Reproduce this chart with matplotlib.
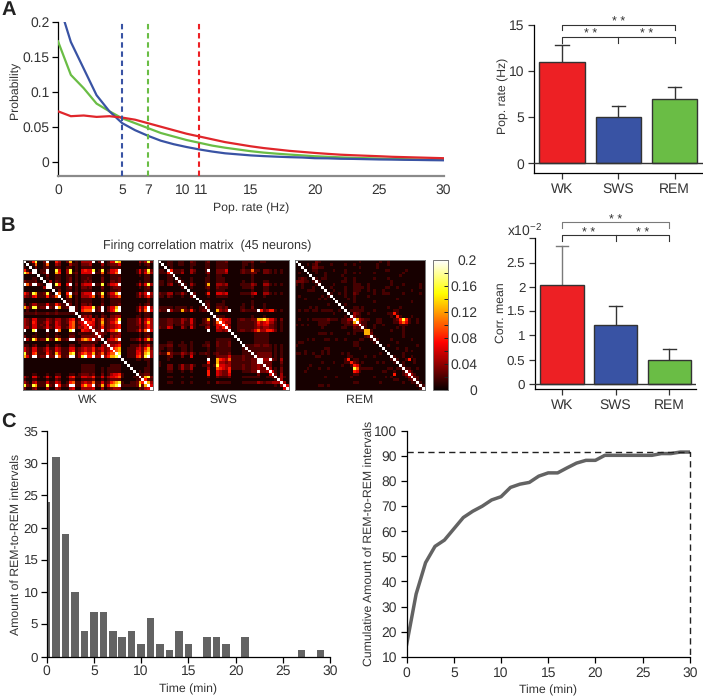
import numpy as np
import matplotlib
matplotlib.use("Agg")
import matplotlib.pyplot as plt
from matplotlib.ticker import MultipleLocator
from matplotlib.transforms import ScaledTranslation

plt.rcParams['font.family'] = ['Liberation Sans', 'DejaVu Sans']
plt.rcParams['font.size'] = 8.8
plt.rcParams['xtick.labelsize'] = 10
plt.rcParams['ytick.labelsize'] = 10
plt.rcParams['text.color'] = '#333333'
plt.rcParams['axes.labelcolor'] = '#333333'
plt.rcParams['xtick.labelcolor'] = '#333333'
plt.rcParams['ytick.labelcolor'] = '#333333'
plt.rcParams['axes.linewidth'] = 0.9
plt.rcParams['text.hinting'] = 'none'

W, H = 703, 697
RED, BLUE, GREEN = '#ED2024', '#3953A4', '#6ABD45'
GREY = '#636363'

# panel A, distributions
rate_hz = list(range(31))
prob_wk = [.072, .065, .066, .064, .065, .063, .060, .055, .050, .045, .040, .036, .032, .028, .025, .022,
           .0195, .0175, .0155, .014, .0125, .0112, .010, .0092, .0085, .0078, .007, .0065, .006, .0055, .005]
prob_sws = [.23, .171, .133, .095, .072, .055, .045, .037, .030, .025, .021, .0175, .0145, .012, .0105, .009,
            .008, .0072, .0065, .006, .005, .0048, .0042, .004, .0036, .0032, .003, .0027, .0025, .0022, .002]
prob_rem = [.172, .124, .105, .083, .072, .062, .055, .048, .041, .036, .031, .027, .023, .020, .0175, .015,
            .013, .0115, .0102, .009, .0078, .007, .0062, .0055, .005, .0045, .004, .0036, .0032, .003, .0028]
rate_means = [5, 7, 11]
rate_ticks = [0, 5, 7, 10, 11, 15, 20, 25, 30]

# bars
states = ['WK', 'SWS', 'REM']
pop_rate = [11, 5, 7]
pop_rate_top = [12.8, 6.2, 8.3]
corr_mean = [2.03, 1.22, 0.5]
corr_mean_top = [2.85, 1.6, 0.72]

# firing correlation matrices, upper triangle, one digit per cell
level_values = [.004, .018, .03, .045, .062, .08, .1, .125, .16, .2]
wk_rows = [
    "90158 00290 05300 27010 33339 02901 44870 00000 31382",
    ".9016 00160 03200 03110 22230 00301 22240 00000 10120",
    "..902 00120 01100 11010 11110 00100 11110 00000 00010",
    "...99 01190 08400 38010 45448 01801 44590 00001 41382",
    "....9 01290 07500 38120 44449 11602 44690 00001 41473",
    "..... 90020 01100 11010 11110 00100 11110 00000 10110",
    "..... .9010 01100 12010 11210 00200 11120 00000 00110",
    "..... ..903 02100 12010 12120 00200 22120 00000 10110",
    "..... ...99 08500 49020 34449 11802 44590 00001 41483",
    "..... ....9 01100 12010 22120 00200 12220 00000 10120",
    "..... ..... 90200 11010 11110 00100 11120 00000 00110",
    "..... ..... .9600 59120 34449 12802 44790 00001 42493",
    "..... ..... ..900 37010 33346 01601 33460 00001 31352",
    "..... ..... ...90 11010 11110 00100 11110 00000 00010",
    "..... ..... ....9 11010 11110 00100 11110 00000 00010",
    "..... ..... ..... 92010 22120 00200 11120 00000 10120",
    "..... ..... ..... .9910 45558 12902 44790 00001 42593",
    "..... ..... ..... ..910 56669 12902 45890 00001 52694",
    "..... ..... ..... ...90 11110 00100 11110 00000 10110",
    "..... ..... ..... ....9 23230 10210 22330 00001 10110",
    "..... ..... ..... ..... 94435 12612 33580 01112 41353",
    "..... ..... ..... ..... .9554 12712 44690 01112 41473",
    "..... ..... ..... ..... ..944 12612 33450 01112 31353",
    "..... ..... ..... ..... ...93 12512 33450 01111 31353",
    "..... ..... ..... ..... ....9 22913 55790 01112 52694",
    "..... ..... ..... ..... ..... 93210 22230 00000 10110",
    "..... ..... ..... ..... ..... .9200 32330 00000 10120",
    "..... ..... ..... ..... ..... ..903 44690 00112 41473",
    "..... ..... ..... ..... ..... ...92 22230 00000 10110",
    "..... ..... ..... ..... ..... ....9 33450 00111 31241",
    "..... ..... ..... ..... ..... ..... 95670 01113 42572",
    "..... ..... ..... ..... ..... ..... .9670 01114 42673",
    "..... ..... ..... ..... ..... ..... ..980 01114 52783",
    "..... ..... ..... ..... ..... ..... ...90 01115 62893",
    "..... ..... ..... ..... ..... ..... ....9 00001 10110",
    "..... ..... ..... ..... ..... ..... ..... 90000 00010",
    "..... ..... ..... ..... ..... ..... ..... .9000 00010",
    "..... ..... ..... ..... ..... ..... ..... ..900 00110",
    "..... ..... ..... ..... ..... ..... ..... ...90 10110",
    "..... ..... ..... ..... ..... ..... ..... ....9 11220",
    "..... ..... ..... ..... ..... ..... ..... ..... 92782",
    "..... ..... ..... ..... ..... ..... ..... ..... .9521",
    "..... ..... ..... ..... ..... ..... ..... ..... ..973",
    "..... ..... ..... ..... ..... ..... ..... ..... ...94",
    "..... ..... ..... ..... ..... ..... ..... ..... ....9",
]
sws_rows = [
    "90011 00110 02100 01200 11120 00001 11200 11000 00000",
    ".9011 00110 01100 01100 11110 00001 10100 00000 00000",
    "..901 00000 01000 01100 11110 00001 00100 00000 00000",
    "...95 11120 03200 01900 22240 00012 11611 02210 10100",
    "....9 11130 03100 01300 22230 00012 11220 02210 10100",
    "..... 90000 00000 00100 11000 00000 00100 00000 00000",
    "..... .9100 01000 01100 11100 00000 00100 00000 00000",
    "..... ..910 01000 01100 11100 00001 00100 01100 00000",
    "..... ...91 03100 01700 33230 00011 11320 03310 10100",
    "..... ....9 01000 01200 21110 00001 11200 01100 00000",
    "..... ..... 90000 00100 11100 00000 00100 01100 00000",
    "..... ..... .9200 01500 44340 00011 11340 03310 10100",
    "..... ..... ..900 00100 11110 00000 00100 01000 00000",
    "..... ..... ...90 00000 00000 00000 00000 00000 00000",
    "..... ..... ....9 01100 00100 00000 00100 00000 00000",
    "..... ..... ..... 91200 11100 00001 00100 01000 00000",
    "..... ..... ..... .9200 22120 00011 00200 01000 00000",
    "..... ..... ..... ..900 73239 00012 11119 52355 10100",
    "..... ..... ..... ...90 00000 00000 00000 00000 00000",
    "..... ..... ..... ....9 11100 00000 00100 01000 00000",
    "..... ..... ..... ..... 96443 00122 11227 78644 20200",
    "..... ..... ..... ..... .9533 00111 11125 34533 10100",
    "..... ..... ..... ..... ..952 00111 11124 34422 10100",
    "..... ..... ..... ..... ...93 00111 11123 23322 10100",
    "..... ..... ..... ..... ....9 00122 11246 33554 20100",
    "..... ..... ..... ..... ..... 90000 00011 11100 00000",
    "..... ..... ..... ..... ..... .9000 00011 11100 00000",
    "..... ..... ..... ..... ..... ..900 00011 11100 00000",
    "..... ..... ..... ..... ..... ...90 00011 11100 00000",
    "..... ..... ..... ..... ..... ....9 11122 12210 10100",
    "..... ..... ..... ..... ..... ..... 91111 11110 10100",
    "..... ..... ..... ..... ..... ..... .9111 11110 10100",
    "..... ..... ..... ..... ..... ..... ..912 22220 10100",
    "..... ..... ..... ..... ..... ..... ...92 22220 10100",
    "..... ..... ..... ..... ..... ..... ....9 93392 10300",
    "..... ..... ..... ..... ..... ..... ..... 92220 00200",
    "..... ..... ..... ..... ..... ..... ..... .9220 00100",
    "..... ..... ..... ..... ..... ..... ..... ..930 10200",
    "..... ..... ..... ..... ..... ..... ..... ...94 10200",
    "..... ..... ..... ..... ..... ..... ..... ....9 20300",
    "..... ..... ..... ..... ..... ..... ..... ..... 91310",
    "..... ..... ..... ..... ..... ..... ..... ..... .9300",
    "..... ..... ..... ..... ..... ..... ..... ..... ..930",
    "..... ..... ..... ..... ..... ..... ..... ..... ...94",
    "..... ..... ..... ..... ..... ..... ..... ..... ....9",
]
rem_rows = [
    "90000 00210 00000 00000 00100 00001 00100 00000 00000",
    ".9001 01200 00100 00100 10000 00010 00100 00000 00000",
    "..900 02211 00000 00000 00100 00010 00000 00000 00000",
    "...90 01100 00010 00100 00000 00000 01100 00010 00000",
    "....9 00100 10000 00100 10100 00100 00000 00100 00000",
    "..... 90000 10000 01000 00000 00000 00000 01000 00000",
    "..... .9101 10000 00100 10000 00100 00100 00000 00000",
    "..... ..910 00000 01100 10000 00000 00010 00000 00000",
    "..... ...90 00010 00000 11100 10000 00010 00100 00010",
    "..... ....9 00100 00100 11110 10000 01100 10000 00010",
    "..... ..... 90010 00100 11100 10100 10000 00000 10000",
    "..... ..... .9100 10100 21000 00100 11100 00100 00010",
    "..... ..... ..900 00100 10000 10000 00000 00000 00000",
    "..... ..... ...90 00010 10000 00000 00000 10000 00000",
    "..... ..... ....9 00000 10000 00100 00000 00000 10000",
    "..... ..... ..... 90100 00000 00000 00000 00000 00000",
    "..... ..... ..... .9000 11010 00000 00100 01000 00000",
    "..... ..... ..... ..901 11110 00100 00001 10000 00000",
    "..... ..... ..... ...90 32100 10000 00115 10000 00000",
    "..... ..... ..... ....9 31100 00000 00010 51000 10000",
    "..... ..... ..... ..... 97321 10011 00001 25851 00100",
    "..... ..... ..... ..... .9311 00011 00001 14641 00100",
    "..... ..... ..... ..... ..921 00100 10000 01110 00000",
    "..... ..... ..... ..... ...91 00100 00000 10100 00000",
    "..... ..... ..... ..... ....7 71000 00010 00100 00000",
    "..... ..... ..... ..... ..... 72000 00000 00100 00000",
    "..... ..... ..... ..... ..... .9100 00000 00100 00000",
    "..... ..... ..... ..... ..... ..910 00010 00000 10000",
    "..... ..... ..... ..... ..... ...90 00000 10000 00000",
    "..... ..... ..... ..... ..... ....9 00100 00000 00100",
    "..... ..... ..... ..... ..... ..... 90000 10010 00000",
    "..... ..... ..... ..... ..... ..... .9000 00010 10000",
    "..... ..... ..... ..... ..... ..... ..900 00100 00000",
    "..... ..... ..... ..... ..... ..... ...91 00100 10000",
    "..... ..... ..... ..... ..... ..... ....9 10015 01000",
    "..... ..... ..... ..... ..... ..... ..... 90100 01000",
    "..... ..... ..... ..... ..... ..... ..... .9100 00000",
    "..... ..... ..... ..... ..... ..... ..... ..911 00100",
    "..... ..... ..... ..... ..... ..... ..... ...93 10000",
    "..... ..... ..... ..... ..... ..... ..... ....9 31000",
    "..... ..... ..... ..... ..... ..... ..... ..... 92100",
    "..... ..... ..... ..... ..... ..... ..... ..... .9100",
    "..... ..... ..... ..... ..... ..... ..... ..... ..910",
    "..... ..... ..... ..... ..... ..... ..... ..... ...91",
    "..... ..... ..... ..... ..... ..... ..... ..... ....9",
]

# panel C
minutes = list(range(30))
rem_intervals = [24, 31, 19, 10, 4, 7, 7, 4, 3, 4, 2, 6, 2, 1, 4, 2, 0, 3, 3, 2, 0, 3, 0, 0, 0, 0, 0, 1, 0, 1]
minutes_cum = list(range(31))
rem_cumulative = [15, 35, 47.5, 54, 56.5, 61, 65.5, 68, 70, 72.5, 73.8, 77.5, 78.8, 79.5, 82, 83.3, 83.3, 85.3,
                  87.2, 88.3, 88.3, 90.3, 90.3, 90.3, 90.3, 90.3, 90.3, 91, 91, 91.6, 91.6]
rem_final = 91.6


def axes_px(x0, y0, x1, y1):
    return fig.add_axes([x0 / W, 1 - y1 / H, (x1 - x0) / W, (y1 - y0) / H])


def ylabel_px(ax, text, px, py):
    # label centre given in figure pixels
    fig.text(px / W, 1 - py / H, text, rotation=90, ha='center', va='center', color='#333333')


def to_matrix(rows):
    m = np.zeros((45, 45), dtype=int)
    for i, r in enumerate(rows):
        r = r.replace(' ', '').replace('.', '0')
        assert len(r) == 45, (i, len(r))
        m[i] = [int(c) for c in r]
    m = np.triu(m) + np.triu(m, 1).T
    return np.array(level_values)[m]


def bar_panel(ax, values, tops, brackets, err_colors, top_color):
    ax.bar([1, 2, 3], values, width=0.81, color=[RED, BLUE, GREEN], edgecolor='#333333', linewidth=1.0, zorder=3)
    for x, v, t, c in zip([1, 2, 3], values, tops, err_colors):
        ax.plot([x, x], [v, t], color=c, lw=1.0, zorder=2)
        ax.plot([x - 0.12, x + 0.12], [t, t], color=c, lw=1.0, zorder=2)
    ax.axhline(0, color='#333333', lw=1.0, zorder=4)
    ax.set_xticks([1, 2, 3])
    ax.set_xticklabels(states)
    ax.spines[['top', 'right']].set_visible(False)
    ax.tick_params(length=4, width=0.9, color='#333333', pad=3)
    y1, d1, y2, d2, star = brackets
    ax.plot([1, 1, 3, 3], [y1 - d1, y1, y1, y1 - d1], color=top_color, lw=0.8, clip_on=False)
    ax.plot([1, 1, 3, 3], [y2 - d2, y2, y2, y2 - d2], color='#333333', lw=0.8, clip_on=False)
    ax.plot([2, 2], [y2, y2 - d2], color='#333333', lw=0.8, clip_on=False)
    kw = dict(ha='center', va='center', fontsize=9, clip_on=False)
    ax.text(2, y1 + star, '* *', **kw)
    ax.text(1.5, y2 + star, '* *', **kw)
    ax.text(2.5, y2 + star, '* *', **kw)


fig = plt.figure(figsize=(W / 100, H / 100), dpi=100)

# A left
ax = axes_px(58, 21.7, 443.5, 175.7)
ax.plot(rate_hz, prob_wk, color='#E0262B', lw=1.6, zorder=4)
ax.plot(rate_hz, prob_rem, color=GREEN, lw=1.6, zorder=3)
ax.plot(rate_hz, prob_sws, color=BLUE, lw=1.6, zorder=3)
for m, c in zip(rate_means, [BLUE, GREEN, RED]):
    ax.plot([m, m], [-0.02, 0.2], color=c, lw=1.5, ls=(0, (2.6, 1.8)), zorder=5)
ax.set_xlim(0, 30)
ax.set_ylim(-0.02, 0.2)
ax.set_xticks(rate_ticks)
ax.set_yticks([0, .05, .1, .15, .2])
ax.set_yticklabels(['0', '0.05', '0.1', '0.15', '0.2'])
ax.spines[['top', 'right']].set_visible(False)
ax.spines['bottom'].set_color('#8a8a8a')
ax.spines['bottom'].set_linewidth(1.6)
ax.tick_params(axis='x', length=0, pad=6)
ax.tick_params(axis='y', length=4, width=0.9, pad=2)
ax.set_xlabel('Pop. rate (Hz)', labelpad=4)
ylabel_px(ax, 'Probability', 15, 90)
for t, v in zip(ax.get_xticklabels(), rate_ticks):
    if v == 10:
        t.set_transform(t.get_transform() + ScaledTranslation(-4 / 100, 0, fig.dpi_scale_trans))
    if v == 11:
        t.set_transform(t.get_transform() + ScaledTranslation(2 / 100, 0, fig.dpi_scale_trans))

# A right
ax = axes_px(534.3, 25, 702.7, 173)
bar_panel(ax, pop_rate, pop_rate_top, (15.05, 0.6, 13.75, 0.7, 0.35), ['#333333'] * 3, '#333333')
ax.set_xlim(0.507, 3.5)
ax.set_ylim(-1.05, 15)
ax.set_yticks([0, 5, 10, 15])
ylabel_px(ax, 'Pop. rate (Hz)', 503, 96)

# B matrices
cbar_im = None
for (x0, x1), rows, name in zip([(22.7, 152.7), (158.3, 289), (294.7, 424.7)],
                                [wk_rows, sws_rows, rem_rows], states):
    ax = axes_px(x0, 260, x1, 390)
    cbar_im = ax.imshow(to_matrix(rows), cmap='hot', vmin=0, vmax=0.2, aspect='auto', interpolation='nearest')
    ax.set_xticks([])
    ax.set_yticks([])
    for s in ax.spines.values():
        s.set_color('#777777')
        s.set_linewidth(0.7)
    ax.set_xlabel(name, labelpad=3)
fig.text(207.5 / W, 1 - 246 / H, 'Firing correlation matrix  (45 neurons)', ha='center', va='center', fontsize=9)

cax = axes_px(433.3, 260, 448, 390)
cb = fig.colorbar(cbar_im, cax=cax)
cb.set_ticks([0, .04, .08, .12, .16, .2])
cb.set_ticklabels(['0', '0.04', '0.08', '0.12', '0.16', '0.2'])
cax.yaxis.set_minor_locator(MultipleLocator(0.02))
cax.tick_params(which='both', direction='in', length=3, width=0.7, color='#222222')
cax.tick_params(axis='y', pad=21)
for t in cax.get_yticklabels():
    t.set_ha('right')
cb.outline.set_edgecolor('#777777')
cb.outline.set_linewidth(0.7)

# B right
ax = axes_px(535, 238.3, 696, 389.3)
bar_panel(ax, corr_mean, corr_mean_top, (3.34, 0.12, 3.07, 0.13, 0.05), ['#7a7a7a', '#333333', '#333333'], '#7a7a7a')
ax.set_xlim(0.495, 3.5)
ax.set_ylim(-0.11, 3.0)
ax.set_yticks([0, .5, 1, 1.5, 2, 2.5, 3])
ax.set_yticklabels(['0', '0.5', '1', '1.5', '2', '2.5', ''])
ylabel_px(ax, 'Corr. mean', 501, 312.5)
ax.tick_params(axis='y', labelsize=9.6)
fig.text(507 / W, 1 - 230 / H, r'x10$^{\mathregular{-2}}$', ha='left', va='center', fontsize=10)

# C left
ax = axes_px(46.7, 431, 330, 656.7)
ax.bar(minutes, rem_intervals, width=0.8, color=GREY, linewidth=0)
ax.set_xlim(0, 30)
ax.set_ylim(0, 35)
ax.set_xticks(range(0, 31, 5))
ax.set_yticks(range(0, 36, 5))
ax.spines[['top', 'right']].set_visible(False)
ax.tick_params(length=4, width=0.9, pad=2)
ax.tick_params(axis='y', labelsize=9.6)
ax.set_xlabel('Time (min)', labelpad=4)
ylabel_px(ax, 'Amount of REM-to-REM intervals', 16, 544)

# C right
ax = axes_px(406.7, 431, 689.7, 656.7)
ax.plot(minutes_cum, rem_cumulative, color=GREY, lw=2.5, solid_joinstyle='round')
ax.plot([0, 30, 30], [rem_final, rem_final, 10], color='#222222', lw=1, ls=(0, (4.5, 3)), clip_on=False)
ax.set_xlim(0, 30)
ax.set_ylim(10, 100)
ax.set_xticks(range(0, 31, 5))
ax.set_yticks(range(10, 101, 10))
ax.spines[['top', 'right']].set_visible(False)
ax.tick_params(length=4, width=0.9, pad=3)
ax.set_xlabel('Time (min)', labelpad=4)
ylabel_px(ax, 'Cumulative Amount of REM-to-REM intervals', 369, 543)

for label, y in zip('ABC', [10, 226, 423]):
    fig.text(1 / W, 1 - y / H, label, fontsize=14.5, fontweight='bold', color='#222222', ha='left', va='center')

fig.savefig('out.png', dpi=100)
